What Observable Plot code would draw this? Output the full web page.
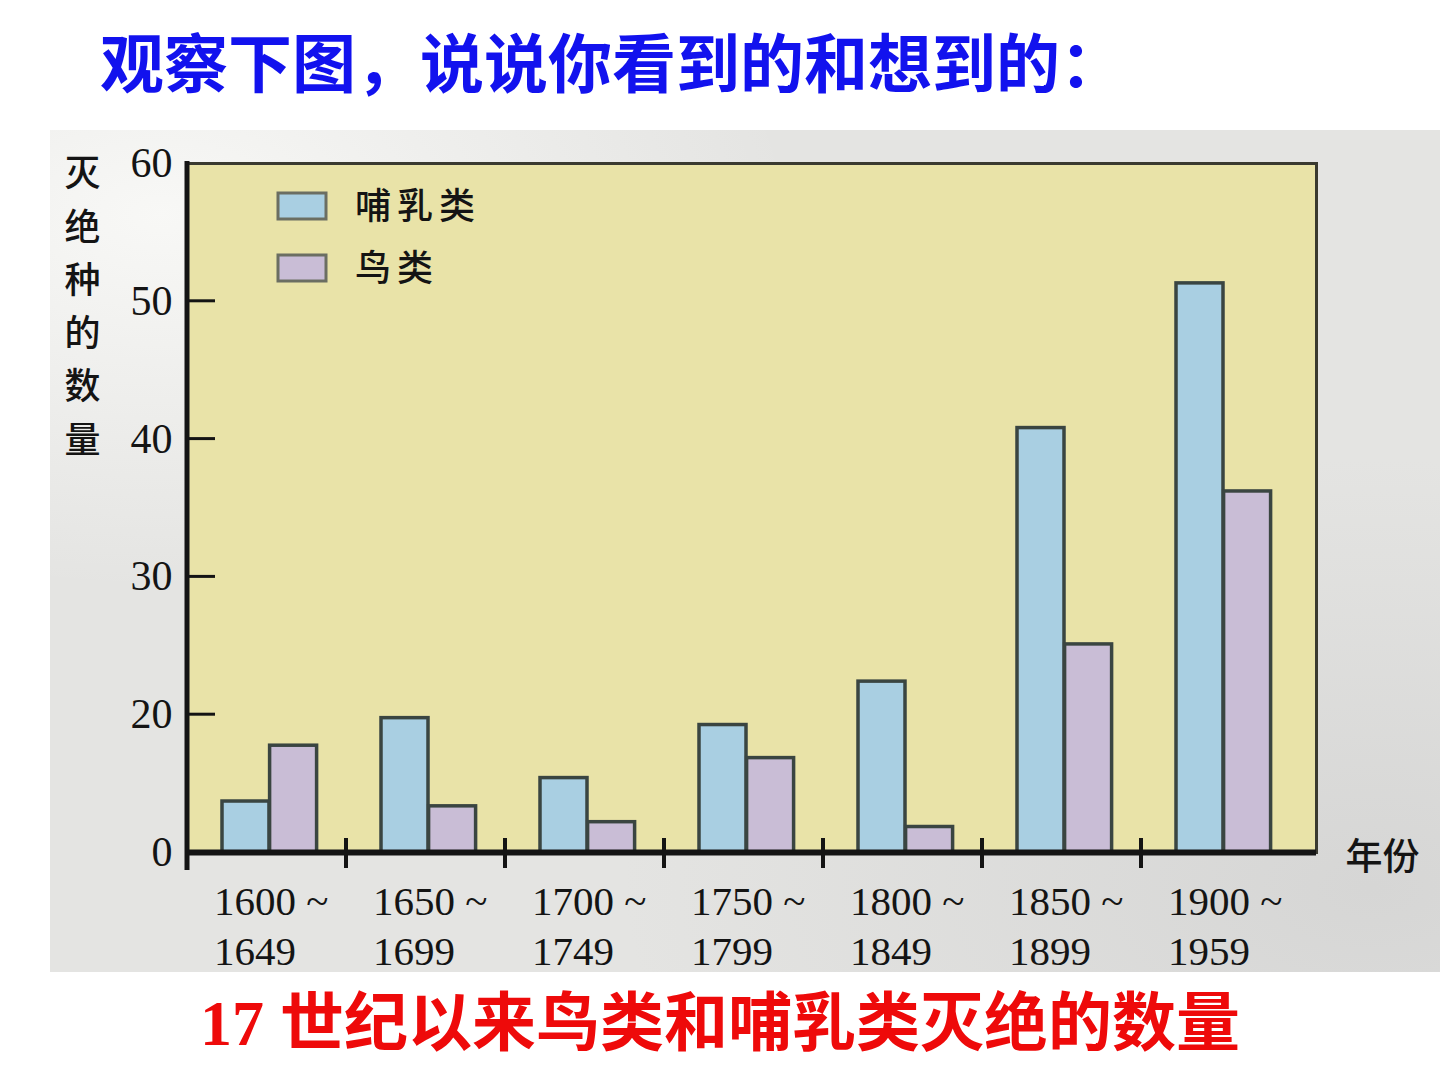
<!DOCTYPE html>
<html>
<head>
<meta charset="utf-8">
<script src="https://cdn.jsdelivr.net/npm/d3@7"></script>
<script src="https://cdn.jsdelivr.net/npm/@observablehq/plot@0.6"></script>
<style>
  html, body { margin: 0; padding: 0; background: #ffffff; width: 1440px; height: 1080px; overflow: hidden; }
  #title { position: absolute; left: 100px; top: 34px; font: bold 64px "Liberation Serif", "Noto Sans CJK SC", serif; color: #1212ee; line-height: 1; white-space: nowrap; }
  #photo { position: absolute; left: 50px; top: 130px; width: 1390px; height: 842px;
    background:
      radial-gradient(ellipse at 8% 10%, rgba(250,250,248,0.9), rgba(250,250,248,0) 35%),
      radial-gradient(ellipse at 95% 90%, rgba(200,200,200,0.5), rgba(200,200,200,0) 40%),
      #e4e4e2; }
  #chart { position: absolute; left: 0; top: 130px; }
  #caption { position: absolute; left: 200px; top: 992px; font: bold 64px "Liberation Serif", "Noto Sans CJK SC", serif; color: #ee0a0a; line-height: 1; white-space: nowrap; }
</style>
</head>
<body>
<div id="title">观察下图，说说你看到的和想到的：</div>
<div id="photo"></div>
<div id="chart"></div>
<div id="caption">17 世纪以来鸟类和哺乳类灭绝的数量</div>
<script>
// ---- data ----
const periods = ["1600~1649", "1650~1699", "1700~1749", "1750~1799", "1800~1849", "1850~1899", "1900~1959"];
const periodLabels = ["1600 ~\n1649", "1650 ~\n1699", "1700 ~\n1749", "1750 ~\n1799", "1800 ~\n1849", "1850 ~\n1899", "1900 ~\n1959"];
const series = ["哺乳类", "鸟类"];
const mammals = [7.4, 19.5, 10.8, 18.5, 22.4, 40.8, 51.3];
const birds = [15.5, 6.7, 4.4, 13.7, 3.7, 25.1, 36.2];
const yTicks = [0, 20, 30, 40, 50, 60];
const yInnerTicks = [20, 30, 40, 50];
const yTitle = "灭绝种的数量";
const xTitle = "年份";
const seriesColors = ["#a9cfe2", "#c9bdd6"];

const mammalData = periods.map((p, i) => ({period: p, species: series[0], value: mammals[i]}));
const birdData = periods.map((p, i) => ({period: p, species: series[1], value: birds[i]}));
const labelData = periods.map((p, i) => ({period: p, label: periodLabels[i]}));

const ink = "#141414";
const barStroke = "#3a4541";

// layout
const W = 1440, H = 842, mL = 187, mR = 124, mT = 33, mB = 120;
// the printed axis is piecewise: each labelled tick is one equal step
const yBottom = H - mB, yTop = mT;
const yRange = yTicks.map((_, i) => yBottom - i * (yBottom - yTop) / (yTicks.length - 1));

// custom mark: axis lines, inward ticks, group boundary ticks, legend
function decorations(index, scales, values, dim) {
  const g = d3.create("svg:g");
  const left = dim.marginLeft, top = dim.marginTop;
  const bottom = dim.height - dim.marginBottom;
  const x = scales.x, y = scales.y;
  for (const t of yInnerTicks) {
    g.append("line").attr("x1", left).attr("x2", left + 28)
      .attr("y1", y(t)).attr("y2", y(t)).attr("stroke", ink).attr("stroke-width", 3);
  }
  periods.slice(1).forEach(p => {
    const xx = x(p);
    g.append("line").attr("x1", xx).attr("x2", xx)
      .attr("y1", bottom - 14).attr("y2", bottom + 16).attr("stroke", ink).attr("stroke-width", 4);
  });
  g.append("line").attr("x1", left).attr("x2", left).attr("y1", top - 2).attr("y2", bottom + 18)
    .attr("stroke", ink).attr("stroke-width", 5);
  series.forEach((s, i) => {
    const sy = top + 30 + i * 62;
    g.append("rect").attr("x", left + 91).attr("y", sy).attr("width", 48).attr("height", 26)
      .attr("fill", scales.color(s)).attr("stroke", "#6b6e62").attr("stroke-width", 3);
    g.append("text").attr("x", left + 168).attr("y", sy + 13).attr("dy", "0.36em")
      .attr("text-anchor", "start")
      .attr("font-family", "'Noto Sans CJK SC', sans-serif").attr("font-size", 36).attr("font-weight", 500)
      .attr("letter-spacing", 6).attr("fill", ink).text(s);
  });
  return g.node();
}

const chart = Plot.plot({
  width: W,
  height: H,
  marginLeft: mL,
  marginRight: mR,
  marginTop: mT,
  marginBottom: mB,
  style: {background: "transparent", fontFamily: "'Liberation Serif', serif", fontSize: "42px", color: ink, overflow: "visible"},
  x: {domain: periods, paddingInner: 0, paddingOuter: 0.037, align: 0, axis: null},
  y: {type: "linear", domain: yTicks, range: yRange, ticks: yTicks, tickSize: 0, tickPadding: 15, tickFormat: d => String(d), label: null},
  color: {domain: series, range: seriesColors},
  marks: [
    Plot.frame({fill: "#e9e3a8", stroke: "#3a3a30", strokeWidth: 3}),
    Plot.barY(mammalData, {x: "period", y: "value", fill: "species", stroke: barStroke, strokeWidth: 3.5, insetLeft: 35, insetRight: 77}),
    Plot.barY(birdData, {x: "period", y: "value", fill: "species", stroke: barStroke, strokeWidth: 3.5, insetLeft: 82.6, insetRight: 29.4}),
    Plot.ruleY([0], {stroke: ink, strokeWidth: 6}),
    decorations,
    Plot.text(labelData, {x: "period", text: "label", frameAnchor: "bottom", lineAnchor: "top", textAnchor: "start", dx: -53, dy: 27, lineHeight: 1.22, fontSize: 41, fill: ink}),
    Plot.text([yTitle.split("").join("\n")], {text: d => d, frameAnchor: "top-left", lineAnchor: "top", textAnchor: "middle", dx: -105, dy: -15, lineHeight: 1.48, fontSize: 36, fontWeight: 500, fontFamily: "'Noto Sans CJK SC', sans-serif", fill: ink}),
    Plot.text([xTitle], {text: d => d, frameAnchor: "bottom-right", lineAnchor: "middle", textAnchor: "start", dx: 29, dy: 6, fontSize: 37, fontWeight: 500, fontFamily: "'Noto Sans CJK SC', sans-serif", fill: ink})
  ]
});
document.getElementById("chart").appendChild(chart);
</script>
</body>
</html>
